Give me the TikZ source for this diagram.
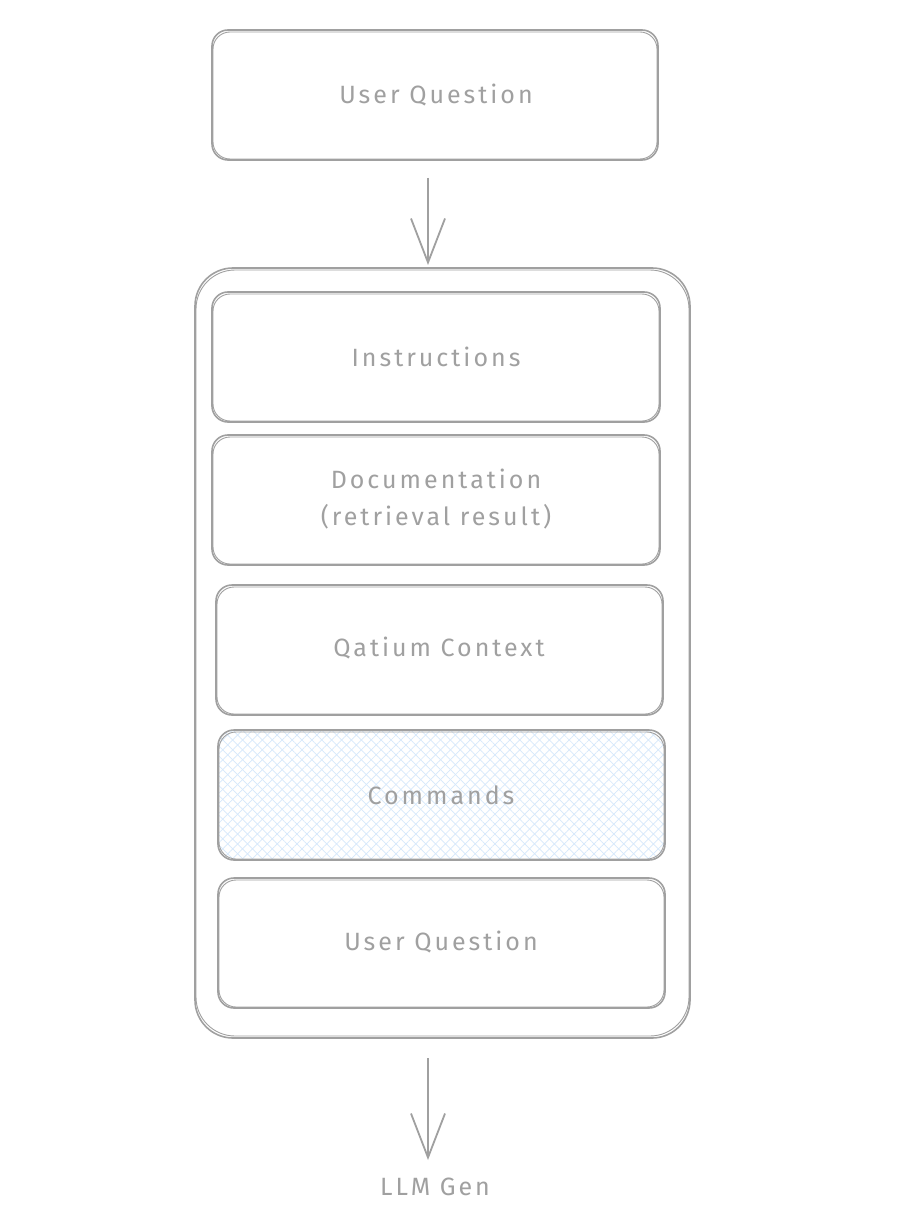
\documentclass[tikz,border=0pt]{standalone}
\usepackage{fontspec}
\setmainfont{Fira Sans}
\newfontfamily\skfont[LetterSpace=12]{Fira Sans}
\usetikzlibrary{arrows.meta,patterns.meta}
\definecolor{sk}{HTML}{A0A0A0}
\definecolor{hatch}{HTML}{D6E8FB}
\tikzset{
  box/.style={draw=sk, line width=1.6pt, rounded corners=16pt},
  box2/.style={draw=sk, line width=0.9pt, rounded corners=17pt},
  lbl/.style={text=sk, font=\skfont\fontsize{25}{37}\selectfont},
  arr/.style={draw=sk, line width=1.8pt, -{Straight Barb[length=44pt,width=34pt,line width=1.8pt]}},
}
\begin{document}
\begin{tikzpicture}[x=1pt,y=-1pt]
\useasboundingbox (0,0) rectangle (900,1230);
\fill[white] (0,0) rectangle (900,1230);
% top box
\draw[box] (212,30) rectangle (658,160);
\draw[box2] (213,32) rectangle (657,159);
\node[lbl] (uq1) at (436,95) {User Question};
\coordinate (a1s) at (428,178);
\coordinate (a1e) at (428,265);
\draw[arr] (a1s) -- (a1e);
% container
\draw[box, rounded corners=38pt] (195,268) rectangle (690,1038);
\draw[box2, rounded corners=39pt] (196,270) rectangle (689,1036);
% inner boxes
\draw[box] (212,292) rectangle (660,422);
\draw[box2] (213,294) rectangle (659,421);
\node[lbl] (ins) at (436,357) {Instructions};
\draw[box] (212,435) rectangle (660,565);
\draw[box2] (213,437) rectangle (659,564);
\node[lbl, align=center] (doc) at (436,499) {Documentation\\(retrieval result)};
\draw[box] (216,585) rectangle (663,715);
\draw[box2] (217,587) rectangle (662,714);
\node[lbl] (qat) at (439,648) {Qatium Context};
% commands
\fill[pattern={Lines[angle=45,distance=7pt,line width=0.7pt]}, pattern color=hatch, rounded corners=16pt] (218,730) rectangle (665,860);
\fill[pattern={Lines[angle=-45,distance=7pt,line width=0.7pt]}, pattern color=hatch, rounded corners=16pt] (218,730) rectangle (665,860);
\draw[box] (218,730) rectangle (665,860);
\draw[box2] (219,732) rectangle (664,859);
\node[lbl] (cmd) at (441,795) {Commands};
\draw[box] (218,878) rectangle (665,1008);
\draw[box2] (219,880) rectangle (664,1007);
\node[lbl] (uq2) at (441,942) {User Question};
% bottom arrow
\coordinate (a2s) at (428,1058);
\coordinate (a2e) at (428,1160);
\node[lbl] (llm) at (435,1187) {LLM Gen};
\draw[arr] (a2s) -- (a2e);
\end{tikzpicture}
\end{document}
